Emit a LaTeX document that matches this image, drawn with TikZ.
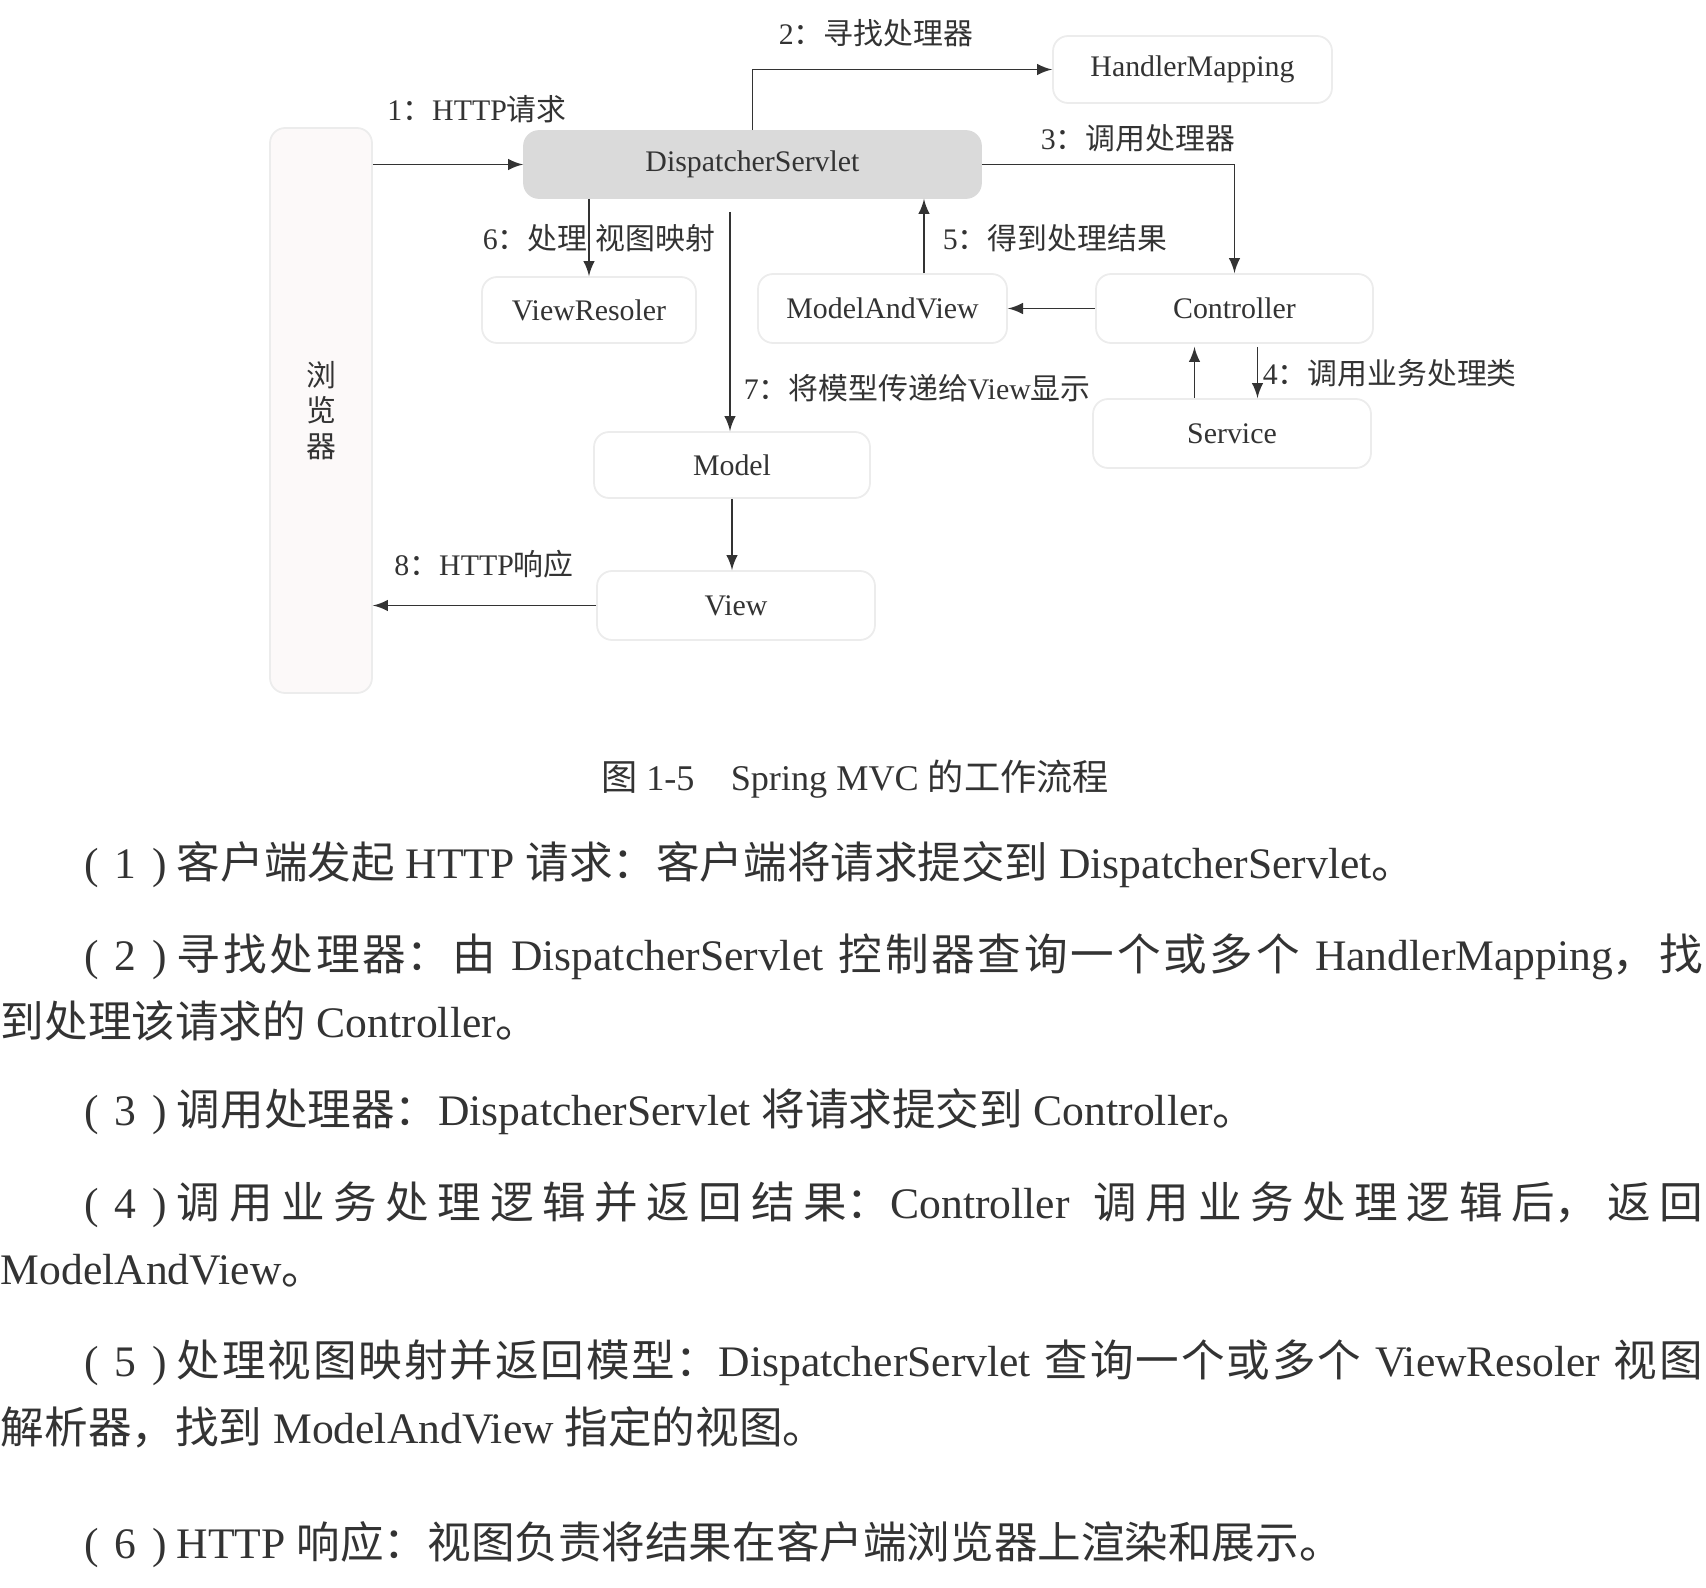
\documentclass[tikz,border=0pt]{standalone}
\usepackage{fontspec}
\setmainfont{Liberation Serif}
\newfontfamily\cjk{Noto Sans CJK SC}
\newcommand\zh[1]{{\cjk #1}}
\newcommand\itemno[1]{\makebox[0.82cm][s]{(\hfill#1\hfill)}\hspace{0.1cm}}
\XeTeXlinebreaklocale "zh"
\XeTeXlinebreakskip=0pt plus 1pt
\usetikzlibrary{calc}
\definecolor{ink}{HTML}{333333}
\definecolor{rim}{HTML}{ECECEC}
\definecolor{dsfill}{HTML}{DADADA}
\definecolor{pale}{HTML}{FCF9F9}
\newcommand\diagfont{\fontsize{8.5pt}{10pt}\selectfont}
\newcommand\bodyfont{\fontsize{12.4pt}{14pt}\selectfont}
\newcommand\capfont{\fontsize{10.3pt}{12pt}\selectfont}

\begin{document}
\begin{tikzpicture}[>=latex, line width=0.5pt, ink,
  box/.style={draw=rim, fill=white, rounded corners=1.5mm, font=\diagfont, text=ink, inner sep=0pt},
  tag/.style={font=\diagfont, text=ink, inner sep=0pt},
  body/.style={font=\bodyfont, text=ink, inner sep=0pt, anchor=west},
  fullline/.style={body, text width=16.18cm, align=justify}]

\useasboundingbox (0,0) rectangle (17.06,-15.88);

\node[box, fill=pale, minimum width=1.02cm, minimum height=5.65cm, align=center, font=\diagfont\cjk] (browser) at (3.21,-4.105) {浏\\览\\器};

\node[box, fill=dsfill, draw=dsfill, minimum width=4.57cm, minimum height=0.67cm] (ds) at (7.525,-1.645) {DispatcherServlet};

\node[box, minimum width=2.79cm, minimum height=0.67cm] (hm) at (11.925,-0.695) {HandlerMapping};

\node[box, minimum width=2.14cm, minimum height=0.66cm] (vr) at (5.89,-3.10) {ViewResoler};

\node[box, minimum width=2.49cm, minimum height=0.69cm] (mav) at (8.825,-3.085) {ModelAndView};

\node[box, minimum width=2.77cm, minimum height=0.69cm] (ctrl) at (12.345,-3.085) {Controller};

\node[box, minimum width=2.78cm, minimum height=0.69cm] (svc) at (12.32,-4.335) {Service};

\node[box, minimum width=2.76cm, minimum height=0.66cm] (model) at (7.32,-4.65) {Model};

\node[box, minimum width=2.78cm, minimum height=0.69cm] (view) at (7.36,-6.055) {View};

\draw[->] (browser.east |- ds.west) -- (ds.west);
\node[tag] (req) at (4.77,-1.09) {1\zh{：}HTTP\zh{请求}};

\draw[->] (ds.north) |- (hm.west);
\node[tag] (find) at (8.76,-0.33) {2\zh{：寻找处理器}};

\draw[->] (ds.east) -| (ctrl.north);
\node[tag] (call) at (11.38,-1.38) {3\zh{：调用处理器}};

\coordinate (down4) at ($(ctrl.south)+(0.23,-0.03)$);
\draw[->] (down4) -- (down4 |- svc.north);
\node[tag, anchor=west] (biz) at (12.62,-3.73) {4\zh{：调用业务处理类}};

\coordinate (up4) at ($(ctrl.south)+(-0.40,-0.03)$);
\draw[->] (up4 |- svc.north) -- (up4);

\draw[->] (ctrl.west) -- (mav.east);

\coordinate (up5) at ($(mav.north)+(0.415,0)$);
\draw[->] (up5) -- (up5 |- ds.south);
\node[tag, anchor=west] (result) at (9.42,-2.38) {5\zh{：得到处理结果}};

\draw[->] (vr.north |- ds.south) -- (vr.north);
\node[tag, anchor=west] (map) at (4.82,-2.38) {6\zh{：处理}\hspace{0.08cm}\zh{视图映射}};

\coordinate (top7) at (7.30,-2.12);
\draw[->] (top7) -- (top7 |- model.north);
\node[tag, anchor=west] (pass) at (7.43,-3.88) {7\zh{：将模型传递给}View\zh{显示}};

\draw[->] (model.south) -- (model.south |- view.north);

\draw[->] (view.west) -- (view.west -| browser.east);
\node[tag] (resp) at (4.84,-5.64) {8\zh{：}HTTP\zh{响应}};

\node[font=\capfont, text=ink, inner sep=0pt] (cap) at (8.55,-7.79) {\zh{图} 1-5\quad Spring MVC \zh{的工作流程}};

\node[body] (p1) at (0.84,-8.65) {\itemno{1}\zh{客户端发起} HTTP \zh{请求：客户端将请求提交到} DispatcherServlet\zh{。}};

\node[fullline] (p2) at (0.84,-9.57) {\itemno{2}\zh{寻找处理器：由} DispatcherServlet \zh{控制器查询一个或多个} HandlerMapping\zh{，找}\parfillskip=0pt\par};

\node[body] (p3) at (0,-10.21) {\zh{到处理该请求的} Controller\zh{。}};

\node[body] (p4) at (0.84,-11.12) {\itemno{3}\zh{调用处理器：}DispatcherServlet \zh{将请求提交到} Controller\zh{。}};

\node[fullline] (p5) at (0.84,-12.05) {\itemno{4}\zh{调用业务处理逻辑并返回结果：}Controller \zh{调用业务处理逻辑后，返回}\parfillskip=0pt\par};

\node[body] (p6) at (0,-12.71) {ModelAndView\zh{。}};

\node[fullline] (p7) at (0.84,-13.63) {\itemno{5}\zh{处理视图映射并返回模型：}DispatcherServlet \zh{查询一个或多个} ViewResoler \zh{视图}\parfillskip=0pt\par};

\node[body] (p8) at (0,-14.27) {\zh{解析器，找到} ModelAndView \zh{指定的视图。}};

\node[body] (p9) at (0.84,-15.45) {\itemno{6}HTTP \zh{响应：视图负责将结果在客户端浏览器上渲染和展示。}};

\end{tikzpicture}
\end{document}
